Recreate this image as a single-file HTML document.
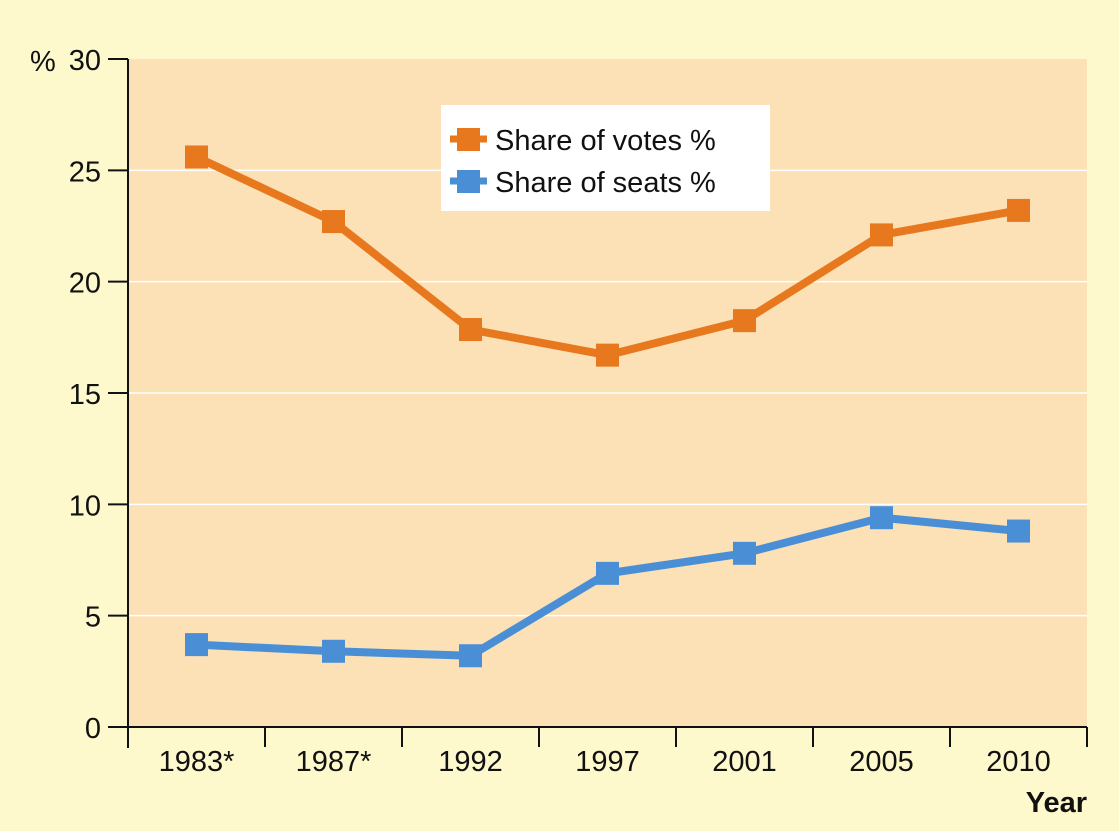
<!DOCTYPE html>
<html><head><meta charset="utf-8"><style>
html,body{margin:0;padding:0;background:#fef9cc;}
svg{display:block;font-family:"Liberation Sans",sans-serif;}
</style></head><body>
<svg id="chart" width="1119" height="831" viewBox="0 0 1119 831" xmlns="http://www.w3.org/2000/svg">
<rect x="0" y="0" width="1119" height="831" fill="#fef9cc"/>
<rect x="129" y="59" width="958" height="668" fill="#fce0b6"/>
<g id="grid"></g>
<g id="axes"></g>
<g id="series"></g>
<text x="30" y="71" font-size="29" fill="#111">%</text>
<text x="1087" y="812" font-size="29" font-weight="bold" fill="#111" text-anchor="end">Year</text>
<g>
<rect x="441" y="105" width="329" height="106" fill="#ffffff"/>
<g>
<line x1="450" y1="139" x2="487" y2="139" stroke="#e8781e" stroke-width="7"/>
<rect x="457" y="128" width="23" height="23" fill="#e8781e"/>
<text x="495" y="150" font-size="29" fill="#111">Share of votes %</text>
</g>
<g>
<line x1="450" y1="181" x2="487" y2="181" stroke="#4a8fd6" stroke-width="7"/>
<rect x="457" y="170" width="23" height="23" fill="#4a8fd6"/>
<text x="495" y="192" font-size="29" fill="#111">Share of seats %</text>
</g>
</g>
</svg>
<script>
const categories = ["1983*","1987*","1992","1997","2001","2005","2010"];
const votes = [25.6,22.7,17.85,16.7,18.25,22.1,23.2];
const seats = [3.7,3.4,3.2,6.9,7.8,9.4,8.8];
const yTicks = [0,5,10,15,20,25,30];

const NS="http://www.w3.org/2000/svg";
const L=128,R=1087,T=59,B=727,yMax=30;
const step=(R-L)/categories.length;
function xPos(i){return L+step*(i+0.5);}
function yPos(v){return B-(v/yMax)*(B-T);}
function mk(tag,attrs,parent){const e=document.createElementNS(NS,tag);for(const k in attrs)e.setAttribute(k,attrs[k]);parent.appendChild(e);return e;}
const grid=document.getElementById('grid'),axes=document.getElementById('axes'),ser=document.getElementById('series');

yTicks.forEach(v=>{
  const y=yPos(v);
  if(v>0&&v<yMax){
    const g=mk('line',{x1:129,x2:R,y1:y,y2:y,stroke:'#ffffff','stroke-width':1.5},grid);
    
    
  }
  const t=mk('line',{x1:108,x2:L,y1:y,y2:y,stroke:'#111','stroke-width':2},axes);
  
  
  const lb=mk('text',{x:101,y:y+11,'font-size':29,fill:'#111','text-anchor':'end'},axes);
  lb.textContent=v;
  
  
});
const ya=mk('line',{x1:L,x2:L,y1:T,y2:748,stroke:'#111','stroke-width':2},axes);


const xa=mk('line',{x1:L,x2:R,y1:B,y2:B,stroke:'#111','stroke-width':2},axes);


for(let i=0;i<=categories.length;i++){
  const x=L+step*i;
  const t=mk('line',{x1:x,x2:x,y1:B,y2:747,stroke:'#111','stroke-width':2},axes);
  
  
}
categories.forEach((c,i)=>{
  const lb=mk('text',{x:xPos(i),y:771,'font-size':29,fill:'#111','text-anchor':'middle'},axes);
  lb.textContent=c;
  
  
});
function drawSeries(vals,color,name){
  const g=mk('g',{},ser);
  
  
  const pts=vals.map((v,i)=>xPos(i)+','+yPos(v)).join(' ');
  const pl=mk('polyline',{points:pts,fill:'none',stroke:color,'stroke-width':8,'stroke-linejoin':'round'},g);
  
  
  vals.forEach((v,i)=>{
    const r=mk('rect',{x:xPos(i)-11.5,y:yPos(v)-11.5,width:23,height:23,fill:color},g);
    
    
  });
}
drawSeries(votes,'#e8781e','votes');
drawSeries(seats,'#4a8fd6','seats');
</script>
</body></html>
